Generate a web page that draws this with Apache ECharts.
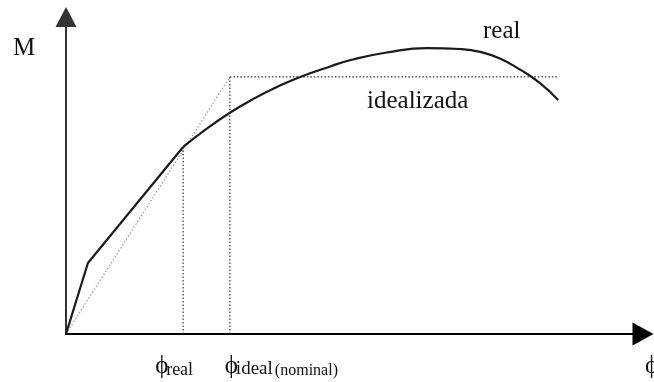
<!DOCTYPE html>
<html>
<head>
<meta charset="utf-8">
<script src="https://cdn.jsdelivr.net/npm/echarts@6/dist/echarts.min.js"></script>
<style>
  html, body { margin: 0; padding: 0; background: #fff; }
  #chart { width: 654px; height: 382px; }
</style>
</head>
<body>
<div id="chart"></div>
<script>
// curvatura (phi) no eixo x, momento (M) no eixo y, ambos em escala 0-100
const realLinX = [0, 3.8, 20.3];
const realLinY = [0, 22.4, 59.0];
const realCurvX = [20.3, 24.1, 28.4, 32.4, 37.1, 40.6, 45.8, 49.7, 55.6, 62.6, 68.3, 71.8, 75.2, 78.7, 82.1, 85.3];
const realCurvY = [59.0, 64.4, 69.8, 74.1, 78.4, 81.1, 84.4, 86.6, 88.8, 90.2, 89.9, 89.0, 86.9, 83.4, 79.2, 73.8];
const idealX = [0, 28.4, 85.3];
const idealY = [0, 81.1, 81.1];
const phiReal = 20.3;
const phiIdeal = 28.4;
const seriesNames = ['real', 'idealizada'];
const axisNames = ['M', 'ϕ'];

const pts = (xs, ys) => xs.map((x, i) => [x, ys[i]]);
const serif = '"Liberation Serif", "DejaVu Serif", serif';

let chart = echarts.init(document.getElementById('chart'));

const base = { type: 'line', symbol: 'none', silent: true, animation: false, z: 3 };

let option = {
  backgroundColor: '#fff',
  grid: { left: 66, top: 17, width: 577, height: 317 },
  xAxis: {
    type: 'value', min: 0, max: 100,
    axisLine: { show: true, onZero: false, symbol: ['none', 'triangle'], symbolSize: [23, 21],
      lineStyle: { color: '#000', width: 2 } },
    axisTick: { show: false }, axisLabel: { show: false }, splitLine: { show: false }
  },
  yAxis: {
    type: 'value', min: 0, max: 100,
    axisLine: { show: true, onZero: false, symbol: ['none', 'triangle'], symbolSize: [21, 20],
      lineStyle: { color: '#333', width: 2 } },
    axisTick: { show: false }, axisLabel: { show: false }, splitLine: { show: false }
  },
  series: [
    // idealizada: trecho inclinado (cinza) e patamar (preto)
    Object.assign({}, base, { data: pts(idealX.slice(0, 2), idealY.slice(0, 2)),
      lineStyle: { color: '#999', width: 1.2, type: [1.5, 2] } }),
    Object.assign({}, base, { data: pts(idealX.slice(1), idealY.slice(1)),
      lineStyle: { color: '#333', width: 1.2, type: [1.5, 2] } }),
    // verticais de phi real e phi ideal
    Object.assign({}, base, { data: [[phiReal, 0], [phiReal, realLinY[2]]],
      lineStyle: { color: '#333', width: 1.2, type: [1.5, 2] } }),
    Object.assign({}, base, { data: [[phiIdeal, 0], [phiIdeal, idealY[1]]],
      lineStyle: { color: '#333', width: 1.2, type: [1.5, 2] } }),
    // curva real
    Object.assign({}, base, { name: seriesNames[0], data: pts(realLinX, realLinY), z: 5,
      lineStyle: { color: '#1a1a1a', width: 2.2 } }),
    Object.assign({}, base, { name: seriesNames[0], data: pts(realCurvX, realCurvY), z: 5,
      smooth: 0.5, lineStyle: { color: '#1a1a1a', width: 2.2 } })
  ]
};
chart.setOption(option);

// textos posicionados a partir das coordenadas dos dados
const pReal = chart.convertToPixel({ gridIndex: 0 }, [phiReal, 0]);
const pIdeal = chart.convertToPixel({ gridIndex: 0 }, [phiIdeal, 0]);
const txt = (text, x, y, size) => ({
  type: 'text', x: x, y: y, silent: true,
  style: { text: text, font: size + 'px ' + serif, fill: '#111', verticalAlign: 'bottom' }
});
const baseY = pReal[1] + 45;

chart.setOption({
  graphic: [
    txt(axisNames[0], 13, 61, 25),
    txt(seriesNames[0], 483, 44, 25),
    txt(seriesNames[1], 367, 114, 25),
    txt(axisNames[1], pReal[0] - 28, baseY, 25),
    txt('real', pReal[0] - 17, baseY, 18),
    txt(axisNames[1], pIdeal[0] - 5, baseY, 25),
    txt('ideal', pIdeal[0] + 6, baseY, 19),
    txt('(nominal)', pIdeal[0] + 45, baseY, 16),
    txt(axisNames[1], 645, baseY, 25)
  ]
});
</script>
</body>
</html>
